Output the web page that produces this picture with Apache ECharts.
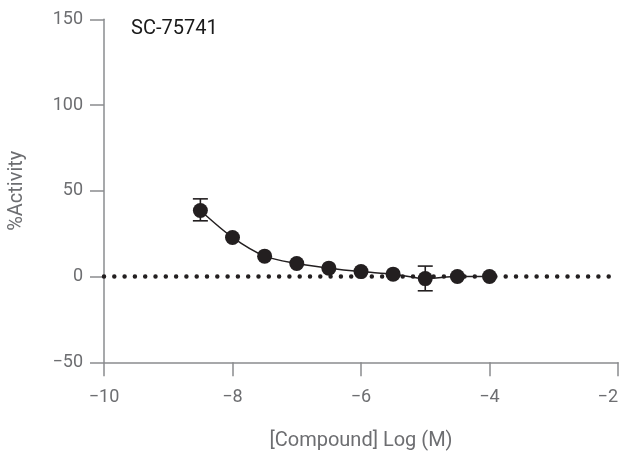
<!DOCTYPE html>
<html>
<head>
<meta charset="utf-8">
<script src="https://cdn.jsdelivr.net/npm/echarts@6/dist/echarts.min.js"></script>
<style>
html,body{margin:0;padding:0;background:#fff;}
#chart{width:626px;height:458px;}
</style>
</head>
<body>
<div id="chart"></div>
<script>
// log concentration (M) and % activity
var logConc=[-8.5,-8,-7.5,-7,-6.5,-6,-5.5,-5,-4.5,-4];
var activity=[38.5,22.8,11.9,7.6,4.9,2.9,1.4,-1.2,0,0];
// error bars (only where visible)
var errX=[-8.5,-5];
var errLow=[32.5,-8.3];
var errHigh=[45.3,6.1];
var xTicks=[-10,-8,-6,-4,-2];
var yTicks=[-50,0,50,100,150];
var baseline=[[-10,0],[-2,0]];

var axisColor="#8a8c8f";
var labelColor="#6d6e71";
var ink="#231f20";

function minus(v){return v<0?"\u2212"+Math.abs(v):String(v);}

var mychart=echarts.init(document.getElementById('chart'));
var option={
	animation:false,
	title:{
		text:"SC-75741",
		left:126,
		top:14,
		textStyle:{fontFamily:"Roboto",fontSize:20,fontWeight:"normal",color:"#1a1a1a"}
	},
	grid:{left:104,right:8,top:19.3,bottom:95.7,outerBoundsMode:"none",containLabel:false},
	xAxis:{
		type:"value",
		min:xTicks[0],
		max:xTicks[xTicks.length-1],
		interval:2,
		name:"[Compound] Log (M)",
		nameLocation:"middle",
		nameGap:69,
		nameTextStyle:{fontFamily:"Roboto",fontSize:20,color:labelColor},
		axisLine:{onZero:false,lineStyle:{color:axisColor,width:1.5}},
		axisTick:{length:14,lineStyle:{color:axisColor,width:1.5}},
		axisLabel:{margin:26,fontFamily:"Roboto",fontSize:18,color:labelColor,formatter:minus,alignMaxLabel:"right"},
		splitLine:{show:false}
	},
	yAxis:{
		type:"value",
		min:yTicks[0],
		max:yTicks[yTicks.length-1],
		interval:50,
		name:"%Activity",
		nameLocation:"middle",
		nameGap:77,
		nameRotate:90,
		nameTextStyle:{fontFamily:"Roboto",fontSize:20,color:labelColor},
		axisLine:{onZero:false,lineStyle:{color:axisColor,width:1.5}},
		axisTick:{length:14,lineStyle:{color:axisColor,width:1.5}},
		axisLabel:{margin:21,fontFamily:"Roboto",fontSize:18,color:labelColor,formatter:minus},
		splitLine:{show:false}
	},
	series:[{
		type:"line",//baseline at 0
		data:baseline,
		symbol:"none",
		silent:true,
		z:1,
		lineStyle:{color:ink,width:4.5,type:[0,10.3],cap:"round"}
	},
	{
		type:"custom",//error bars
		z:3,
		renderItem:function(params,api){
			var x=api.value(0);
			var lo=api.coord([x,api.value(1)]);
			var hi=api.coord([x,api.value(2)]);
			var w=7.5;
			var st={stroke:ink,lineWidth:1.6};
			return {type:"group",children:[
				{type:"line",shape:{x1:lo[0],y1:lo[1],x2:hi[0],y2:hi[1]},style:st},
				{type:"line",shape:{x1:lo[0]-w,y1:lo[1],x2:lo[0]+w,y2:lo[1]},style:st},
				{type:"line",shape:{x1:hi[0]-w,y1:hi[1],x2:hi[0]+w,y2:hi[1]},style:st}
			]};
		},
		data:errX.map(function(x,i){return [x,errLow[i],errHigh[i]];})
	},
	{
		type:"line",//points with fitted curve
		data:logConc.map(function(x,i){return [x,activity[i]];}),
		smooth:0.3,
		symbol:"circle",
		symbolSize:15,
		z:4,
		itemStyle:{color:ink},
		lineStyle:{color:ink,width:1.5}
	}]
};
mychart.setOption(option);
</script>
</body>
</html>
